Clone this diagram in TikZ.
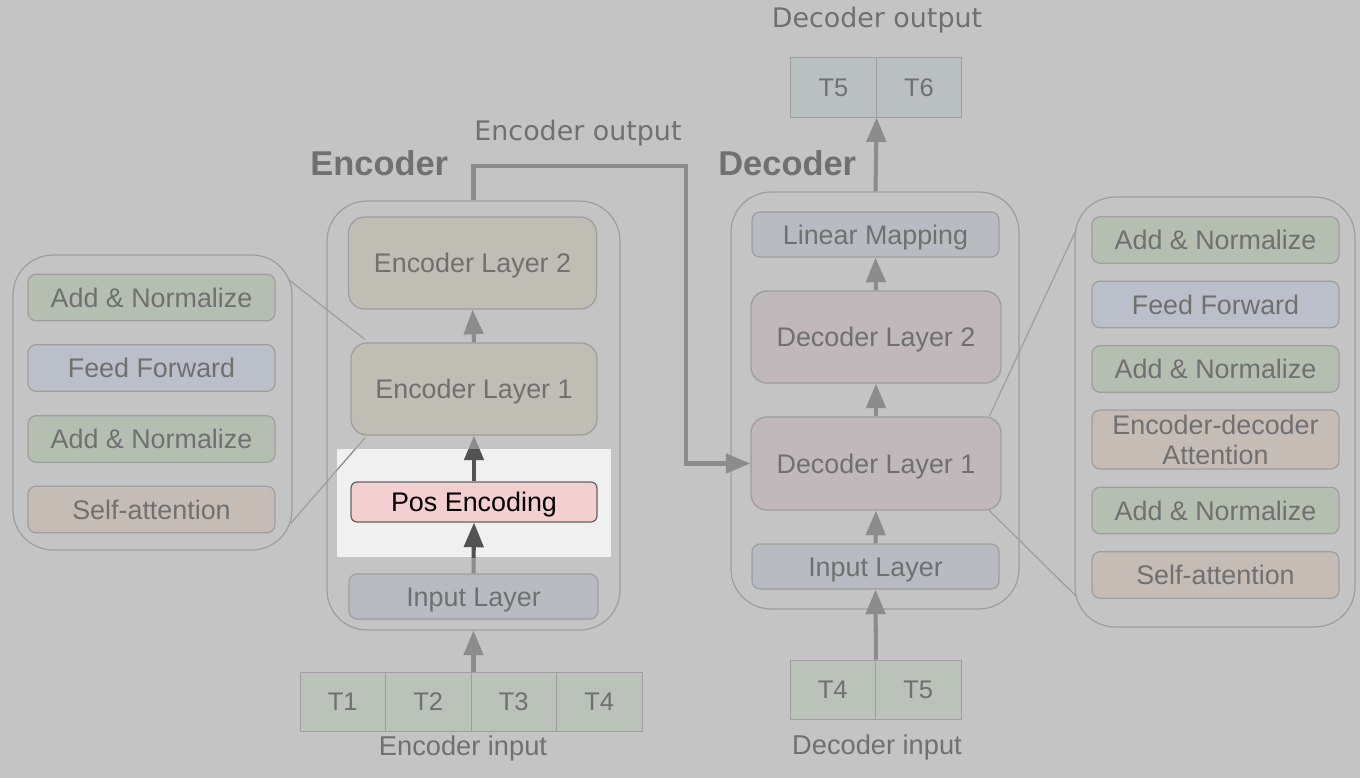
\documentclass[tikz,border=0pt]{standalone}
\usepackage{fontspec}
\setmainfont{Liberation Sans}
\newfontfamily\labelfont{DejaVu Sans}
\usetikzlibrary{arrows.meta}
\usetikzlibrary{positioning}

\definecolor{cBg}{RGB}{196,196,196}
\definecolor{cText}{RGB}{112,112,112}
\definecolor{cLine}{RGB}{158,158,158}
\definecolor{cArrow}{RGB}{140,140,140}
\definecolor{cDark}{RGB}{82,82,82}
\definecolor{cAdd}{RGB}{181,191,177}
\definecolor{cFeed}{RGB}{186,191,201}
\definecolor{cAttn}{RGB}{197,188,182}
\definecolor{cEncL}{RGB}{192,189,180}
\definecolor{cDecL}{RGB}{192,184,186}
\definecolor{cLin}{RGB}{186,186,194}
\definecolor{cTok}{RGB}{186,194,186}
\definecolor{cTokOut}{RGB}{186,192,192}
\definecolor{cHigh}{RGB}{240,240,240}
\definecolor{cPos}{RGB}{243,207,207}

\newcommand\boxfont{\fontsize{15.3}{17}\selectfont}
\newcommand\tokfont{\fontsize{14.5}{16}\selectfont}

\tikzset{
  panel/.style={draw=cLine, line width=0.7pt, rounded corners=0.8cm, minimum width=#1},
  box/.style={draw=cLine, line width=0.7pt, rounded corners=0.16cm, text=cText, font=\boxfont, inner sep=0pt, align=center},
  capmid/.style={text height=#1, text depth=0pt},
  capmid/.default=11pt,
  layer/.style={box, capmid, rounded corners=0.32cm, minimum width=4.96cm, minimum height=1.84cm},
  subbox/.style={box, capmid, minimum width=4.94cm, minimum height=0.93cm},
  token/.style={draw=cLine, line width=0.5pt, fill=cTok, text=cText, font=\tokfont, capmid=10.4pt, minimum width=1.71cm, minimum height=1.18cm, inner sep=0pt},
  arr/.style={draw=cArrow, line width=2.3pt, -{Triangle[length=14pt,width=11pt]}},
  link/.style={draw=cLine, line width=0.7pt},
  outlabel/.style={text=cText, font=\labelfont\fontsize{15.3}{17}\selectfont},
  inlabel/.style={text=cText, font=\fontsize{15.5}{17}\selectfont},
  title/.style={text=cText, font=\fontsize{19.6}{21}\selectfont\bfseries, anchor=west, inner sep=0pt}
}

\begin{document}
\begin{tikzpicture}[x=0.02cm, y=-0.02cm]
\fill[cBg] (0,0) rectangle (1360,778);

% encoder layer detail
\node[panel=5.58cm, minimum height=5.9cm] (lpanel) at (152.5,402.5) {};
\node[subbox, fill=cAdd]  (lan2) at (151.5,297.5) {Add \& Normalize};
\node[subbox, fill=cFeed] (lff)  at (151.5,368)   {Feed Forward};
\node[subbox, fill=cAdd]  (lan1) at (151.5,439)   {Add \& Normalize};
\node[subbox, fill=cAttn] (lsa)  at (151.5,509.5) {Self-attention};

% encoder
\node[panel=5.86cm, minimum height=8.58cm] (enc) at (473.5,415.5) {};
\node[title] (enct) at (310,163) {Encoder};
\node[layer, fill=cEncL] (el2) at (472.5,263) {Encoder Layer 2};
\node[layer, fill=cEncL, minimum width=4.92cm] (el1) at (474,389) {Encoder Layer 1};
\node[subbox, fill=cLin, minimum width=4.98cm, minimum height=0.9cm] (eil) at (473.5,596.5) {Input Layer};
\node[box, capmid, fill=cPos, draw=cDark!90, text=black, minimum width=4.92cm, minimum height=0.8cm, rounded corners=0.12cm] (pe) at (474,502) {Pos Encoding};

\coordinate (lpa) at (289,280);
\coordinate (lpb) at (291,523);
\draw[link] (lpa) -- ([xshift=8.5pt,yshift=1.5pt]el1.north west);
\draw[link] (lpb) -- ([xshift=8.5pt,yshift=-1pt]el1.south west);

\foreach \t/\x in {1/342.75, 2/428.25, 3/513.75, 4/599.25}
  \node[token] (ein\t) at (\x,701.5) {T\t};
\node[inlabel] (einl) at (463,748) {Encoder input};

\draw[arr] (el1.north) -- (el2.south);
\draw[arr] (pe.north) -- (el1.south);
\draw[arr] (eil.north) -- (pe.south);
\draw[arr] (enc.south |- ein2.north) -- (enc.south);

% highlighted step
\fill[cHigh] (337,449) rectangle (611,557);
\begin{scope}
\clip (337,449) rectangle (611,557);
\draw[link, draw=cDark!70] (lpb) -- ([xshift=8.5pt,yshift=-1pt]el1.south west);
\draw[arr, draw=cDark] (pe.north) -- (el1.south);
\draw[arr, draw=cDark] (eil.north) -- (pe.south);
\end{scope}
\node[box, capmid, fill=cPos, draw=cDark!90, text=black, minimum width=4.92cm, minimum height=0.8cm, rounded corners=0.12cm] at (pe) {Pos Encoding};

% encoder output
\node[outlabel] (eout) at (578,133) {Encoder output};
\coordinate (eo1) at (686,166);

% decoder
\node[panel=5.76cm, minimum height=8.34cm] (dec) at (875,400.5) {};
\node[title] (dect) at (718,163) {Decoder};
\node[subbox, fill=cLin, minimum height=0.9cm] (lm) at (875.5,234.5) {Linear Mapping};
\node[layer, fill=cDecL, minimum width=5cm] (dl2) at (876,337) {Decoder Layer 2};
\node[layer, fill=cDecL, minimum width=5cm, minimum height=1.86cm] (dl1) at (876,463.5) {Decoder Layer 1};
\node[subbox, fill=cLin, minimum height=0.9cm] (dil) at (875.5,566.5) {Input Layer};

\draw[arr] (enc.north) |- (eo1) |- (dl1.west);

\foreach \t/\x in {4/832.75, 5/918.25}
  \node[token] (din\t) at (\x,689.5) {T\t};
\node[inlabel] (dinl) at (877,747) {Decoder input};

\foreach \t/\x in {5/833.5, 6/919}
  \node[token, fill=cTokOut, minimum height=1.2cm] (dout\t) at (\x,87) {T\t};
\node[outlabel] (doutl) at (877,20) {Decoder output};

\draw[arr] (dl1.north) -- (dl2.south);
\draw[arr] (dl2.north) -- (lm.south);
\draw[arr] (dil.north) -- (dl1.south);
\draw[arr] (din4.north east) -- (dil.south);
\draw[arr] (lm.north |- dec.north) -- (dout5.south east);

% decoder layer detail
\node[panel=5.6cm, minimum height=8.6cm] (rpanel) at (1215,412) {};
\node[subbox, fill=cAdd]  (ran3) at (1215.5,240)   {Add \& Normalize};
\node[subbox, fill=cFeed] (rff)  at (1215.5,304.5) {Feed Forward};
\node[subbox, fill=cAdd]  (ran2) at (1215.5,369)   {Add \& Normalize};
\node[box, fill=cAttn, minimum width=4.94cm, minimum height=1.18cm] (reda) at (1215.5,439.5) {Encoder-decoder\\Attention};
\node[subbox, fill=cAdd]  (ran1) at (1215.5,510.5) {Add \& Normalize};
\node[subbox, fill=cAttn] (rsa)  at (1215.5,575)   {Self-attention};

\coordinate (rpa) at (1076,230);
\coordinate (rpb) at (1076,596);
\draw[link] ([xshift=-7pt]dl1.north east) -- (rpa);
\draw[link] ([xshift=-7pt]dl1.south east) -- (rpb);

\end{tikzpicture}
\end{document}
